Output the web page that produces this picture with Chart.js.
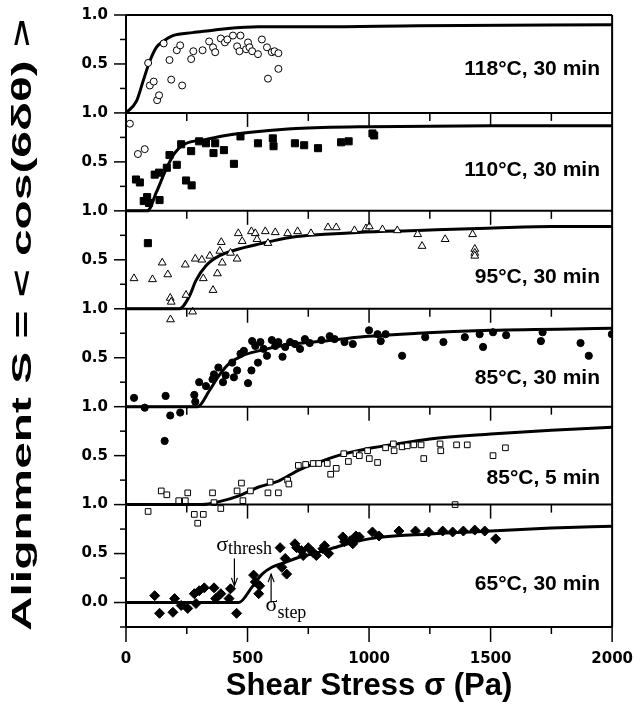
<!DOCTYPE html>
<html>
<head>
<meta charset="utf-8">
<script src="https://cdn.jsdelivr.net/npm/chart.js@4.4.1/dist/chart.umd.min.js"></script>
<style>
  html, body { margin: 0; padding: 0; background: #fff; }
</style>
</head>
<body>
<canvas id="myChart" width="641" height="708"></canvas>
<script>
// panel names, top to bottom
const panelNames = ['118°C, 30 min', '110°C, 30 min', '95°C, 30 min', '85°C, 30 min', '85°C, 5 min', '65°C, 30 min'];
const xTickText = ['0', '500', '1000', '1500', '2000'];
const yTickText = ['0.0', '0.5', '1.0'];
const xTitle = 'Shear Stress σ (Pa)';
const yTitle = 'Alignment S = < cos(6δθ) >';

// 118 C, 30 min (open circles)
const p1X = [16, 49, 77, 91, 98, 114, 128, 136, 155, 179, 186, 209, 223, 231, 268, 277, 315, 342, 358, 367, 390, 407, 417, 440, 457, 467, 471, 494, 502, 508, 519, 543, 559, 580, 584, 600, 611, 627, 627];
const p1Y = [-0.11, -0.42, -0.37, 0.51, 0.28, 0.32, 0.13, 0.18, 0.71, 0.54, 0.34, 0.64, 0.69, 0.28, 0.55, 0.63, 0.64, 0.73, 0.67, 0.62, 0.76, 0.72, 0.75, 0.79, 0.68, 0.63, 0.79, 0.65, 0.72, 0.67, 0.63, 0.60, 0.75, 0.67, 0.35, 0.62, 0.63, 0.61, 0.45];
const c1X = [0, 43, 71, 98, 125, 152, 193, 274, 342, 410, 546, 800, 1200, 2000];
const c1Y = [0, 0.12, 0.33, 0.53, 0.67, 0.73, 0.79, 0.82, 0.84, 0.86, 0.88, 0.88, 0.89, 0.90];

// 110 C, 30 min (filled squares)
const p2X = [41, 57, 73, 87, 90, 95, 118, 136, 138, 168, 179, 209, 227, 247, 268, 270, 301, 329, 360, 367, 403, 444, 471, 543, 604, 607, 695, 733, 790, 885, 916, 1014, 1021];
const p2Y = [0.32, 0.29, 0.10, 0.14, -0.33, 0.08, 0.37, 0.39, 0.11, 0.44, 0.57, 0.47, 0.68, 0.31, 0.61, 0.26, 0.71, 0.69, 0.59, 0.69, 0.62, 0.48, 0.76, 0.69, 0.74, 0.66, 0.69, 0.67, 0.64, 0.70, 0.71, 0.79, 0.77];
const c2X = [0, 88, 125, 166, 200, 240, 329, 410, 546, 700, 1000, 1500, 2000];
const c2Y = [0, 0, 0.19, 0.43, 0.59, 0.68, 0.73, 0.77, 0.81, 0.84, 0.86, 0.87, 0.87];

// 95 C, 30 min (open triangles)
const p3X = [33, 109, 149, 172, 182, 183, 186, 244, 247, 274, 285, 312, 318, 345, 358, 376, 386, 392, 396, 430, 457, 462, 478, 516, 532, 539, 573, 584, 614, 665, 706, 761, 831, 865, 940, 987, 1001, 1055, 1116, 1200, 1218, 1313, 1426, 1435, 1435, 1435];
const p3Y = [0.31, 0.30, 0.47, 0.35, 0.11, -0.11, 0.07, 0.45, 0.14, -0.03, 0.51, 0.50, 0.31, 0.54, 0.19, 0.36, 0.59, 0.68, 0.47, 0.57, 0.51, 0.77, 0.69, 0.79, 0.77, 0.71, 0.79, 0.67, 0.78, 0.77, 0.79, 0.77, 0.83, 0.83, 0.80, 0.82, 0.84, 0.81, 0.80, 0.76, 0.64, 0.71, 0.76, 0.61, 0.57, 0.54];
const c3X = [0, 220, 261, 288, 329, 383, 464, 546, 682, 817, 953, 1200, 1450, 1750, 2000];
const c3Y = [0, 0, 0.13, 0.29, 0.44, 0.54, 0.61, 0.66, 0.73, 0.76, 0.78, 0.80, 0.82, 0.84, 0.84];

// 85 C, 30 min (filled circles)
const p4X = [33, 77, 159, 163, 182, 223, 281, 285, 301, 329, 356, 362, 380, 399, 410, 437, 444, 457, 471, 485, 502, 516, 519, 532, 543, 553, 566, 580, 600, 614, 627, 644, 655, 675, 695, 716, 736, 756, 804, 838, 858, 899, 933, 1000, 1035, 1048, 1068, 1136, 1231, 1306, 1394, 1455, 1469, 1510, 1564, 1707, 1714, 1870, 1904, 1999];
const p4Y = [0.09, -0.01, -0.35, 0.11, -0.09, -0.06, 0.12, 0.05, 0.25, 0.21, 0.28, 0.33, 0.40, 0.25, 0.32, 0.45, 0.30, 0.37, 0.54, 0.57, 0.24, 0.37, 0.67, 0.62, 0.45, 0.66, 0.59, 0.52, 0.68, 0.62, 0.66, 0.51, 0.61, 0.66, 0.64, 0.59, 0.69, 0.65, 0.68, 0.72, 0.69, 0.66, 0.64, 0.78, 0.74, 0.67, 0.74, 0.52, 0.71, 0.66, 0.71, 0.74, 0.61, 0.76, 0.73, 0.67, 0.76, 0.65, 0.52, 0.74];
const c4X = [0, 295, 342, 383, 424, 478, 546, 682, 818, 953, 1200, 1500, 2000];
const c4Y = [0, 0, 0.16, 0.32, 0.44, 0.52, 0.57, 0.64, 0.67, 0.71, 0.75, 0.78, 0.80];

// 85 C, 5 min (open squares)
const p5X = [91, 145, 168, 217, 244, 254, 281, 295, 318, 356, 362, 390, 457, 475, 481, 512, 584, 593, 627, 665, 670, 709, 739, 770, 793, 828, 842, 865, 896, 915, 946, 960, 994, 1001, 1035, 1068, 1100, 1103, 1136, 1157, 1184, 1214, 1225, 1292, 1295, 1354, 1360, 1404, 1510, 1561];
const p5Y = [-0.07, 0.14, 0.10, 0.04, 0.04, 0.12, -0.10, -0.19, -0.10, 0.12, 0.02, -0.04, 0.14, 0.22, 0.04, 0.14, 0.12, 0.23, 0.12, 0.25, 0.21, 0.40, 0.41, 0.42, 0.42, 0.42, 0.31, 0.37, 0.52, 0.44, 0.52, 0.50, 0.55, 0.47, 0.43, 0.58, 0.62, 0.55, 0.59, 0.60, 0.61, 0.61, 0.47, 0.62, 0.55, 0.00, 0.61, 0.61, 0.50, 0.58];
const c5X = [0, 315, 383, 464, 546, 627, 709, 790, 872, 953, 1116, 1250, 1500, 1750, 2000];
const c5Y = [0, 0, 0.03, 0.09, 0.18, 0.24, 0.35, 0.43, 0.50, 0.55, 0.62, 0.67, 0.72, 0.76, 0.79];

// 65 C, 30 min (filled diamonds)
const p6X = [118, 138, 193, 200, 227, 254, 281, 288, 301, 322, 362, 369, 390, 424, 430, 455, 525, 532, 546, 550, 634, 641, 655, 661, 695, 702, 722, 729, 750, 770, 783, 810, 817, 834, 892, 899, 923, 933, 946, 960, 1014, 1041, 1123, 1191, 1245, 1303, 1344, 1388, 1435, 1476, 1521];
const p6Y = [0.07, -0.11, -0.10, 0.04, -0.03, -0.06, 0.09, -0.01, 0.12, 0.15, 0.15, 0.04, 0.09, 0.04, 0.14, -0.11, 0.28, 0.21, 0.09, 0.17, 0.56, 0.36, 0.45, 0.29, 0.60, 0.56, 0.53, 0.48, 0.56, 0.51, 0.48, 0.55, 0.58, 0.50, 0.67, 0.62, 0.63, 0.60, 0.68, 0.67, 0.72, 0.68, 0.73, 0.73, 0.72, 0.73, 0.72, 0.73, 0.74, 0.73, 0.65];
const c6X = [0, 464, 519, 560, 600, 655, 709, 790, 885, 1000, 1250, 1500, 1750, 2000];
const c6Y = [0, 0, 0.16, 0.29, 0.36, 0.41, 0.46, 0.51, 0.58, 0.65, 0.70, 0.73, 0.76, 0.78];

// where the panel names sit (stress, alignment within panel)
const labelX = 1950;
const labelY = [0.45, 0.41, 0.32, 0.29, 0.27, 0.19];

// sigma marks in the bottom panel
const sigmaNotes = [
  { sub: 'thresh', x: 371, y: 0.53, drop: 3, arrowX: 446, from: 0.45, to: 0.17 },
  { sub: 'step', x: 574, y: -0.09, drop: 7, arrowX: 597, from: 0.0, to: 0.29 }
];

const pointSets = [[p1X, p1Y], [p2X, p2Y], [p3X, p3Y], [p4X, p4Y], [p5X, p5Y], [p6X, p6Y]];
const curveSets = [[c1X, c1Y], [c2X, c2Y], [c3X, c3Y], [c4X, c4Y], [c5X, c5Y], [c6X, c6Y]];
const markers = [
  { style: 'circle', r: 3.5, fill: '#fff' },
  { style: 'rect', r: 5, fill: '#000' },
  { style: 'triangle', r: 4.5, fill: '#fff' },
  { style: 'circle', r: 3.6, fill: '#000' },
  { style: 'rect', r: 4, fill: '#fff' },
  { style: 'rectRot', r: 5, fill: '#000' }
];

// each panel is shifted up by whole units so they stack
const offsetOf = i => pointSets.length - 1 - i;

const datasets = [];
pointSets.forEach(([xs, ys], i) => {
  const off = offsetOf(i);
  datasets.push({
    type: 'scatter',
    label: panelNames[i],
    data: xs.map((v, k) => ({ x: v, y: ys[k] + off })),
    pointStyle: markers[i].style,
    pointRadius: markers[i].r,
    pointBackgroundColor: markers[i].fill,
    pointBorderColor: '#000',
    pointBorderWidth: 1
  });
});
curveSets.forEach(([xs, ys], i) => {
  const off = offsetOf(i);
  datasets.push({
    type: 'line',
    label: panelNames[i] + ' fit',
    data: xs.map((v, k) => ({ x: v, y: ys[k] + off })),
    borderColor: '#000',
    borderWidth: 3,
    pointRadius: 0,
    cubicInterpolationMode: 'monotone',
    fill: false
  });
});

function line(ctx, x1, y1, x2, y2) {
  ctx.beginPath();
  ctx.moveTo(x1, y1);
  ctx.lineTo(x2, y2);
  ctx.stroke();
}

function arrow(ctx, x, y1, y2) {
  line(ctx, x, y1, x, y2);
  const dir = y2 > y1 ? -1 : 1;
  ctx.beginPath();
  ctx.moveTo(x - 3, y2 + dir * 8);
  ctx.lineTo(x, y2);
  ctx.lineTo(x + 3, y2 + dir * 8);
  ctx.stroke();
}

const framePlugin = {
  id: 'frame',
  afterDatasetsDraw(chart) {
    const { ctx, chartArea: a, scales: { x, y } } = chart;
    ctx.save();
    ctx.strokeStyle = '#000';
    ctx.fillStyle = '#000';

    // panel boundaries, top and frame
    ctx.lineWidth = 2;
    for (let k = 1; k <= pointSets.length; k++) {
      const py = y.getPixelForValue(k);
      line(ctx, a.left, py, a.right, py);
    }
    line(ctx, a.left, a.top, a.left, a.bottom);
    line(ctx, a.right, a.top, a.right, a.bottom);
    line(ctx, a.left, a.bottom, a.right, a.bottom);

    // stress ticks: bottom axis and along every panel boundary
    ctx.lineWidth = 1.5;
    for (let v = 0; v <= 2000; v += 250) {
      const px = x.getPixelForValue(v);
      const major = v % 500 === 0;
      line(ctx, px, a.bottom, px, a.bottom + (major ? 15 : 7));
      if (v > 0 && v < 2000) {
        for (let k = 1; k < pointSets.length; k++) {
          const py = y.getPixelForValue(k);
          line(ctx, px, py, px, py + (major ? 14 : 8));
        }
      }
    }

    // alignment ticks
    for (let q = -1; q <= pointSets.length * 4; q++) {
      const py = y.getPixelForValue(q / 4);
      const major = q >= 0 && q % 2 === 0;
      line(ctx, a.left - (major ? 12 : 6), py, a.left, py);
    }

    // panel names
    ctx.font = 'bold 21px "Liberation Sans", Arial, sans-serif';
    ctx.textAlign = 'right';
    ctx.textBaseline = 'middle';
    panelNames.forEach((name, i) => {
      ctx.fillText(name, x.getPixelForValue(labelX), y.getPixelForValue(labelY[i] + offsetOf(i)));
    });

    // sigma notes with arrows
    ctx.textAlign = 'left';
    ctx.textBaseline = 'alphabetic';
    ctx.lineWidth = 1.2;
    const bottomOff = offsetOf(pointSets.length - 1);
    sigmaNotes.forEach(n => {
      const px = x.getPixelForValue(n.x);
      const py = y.getPixelForValue(n.y + bottomOff);
      ctx.font = '22px "Liberation Serif", "Times New Roman", serif';
      ctx.fillText('σ', px, py);
      const w = ctx.measureText('σ').width;
      ctx.font = '18px "Liberation Serif", "Times New Roman", serif';
      ctx.fillText(n.sub, px + w, py + n.drop);
      arrow(ctx, x.getPixelForValue(n.arrowX), y.getPixelForValue(n.from + bottomOff), y.getPixelForValue(n.to + bottomOff));
    });

    // y title, stretched along the axis like the original
    ctx.save();
    ctx.translate(24, (a.top + a.bottom) / 2 + 4);
    ctx.rotate(-Math.PI / 2);
    ctx.font = 'bold 27px "Liberation Sans", Arial, sans-serif';
    ctx.textAlign = 'center';
    ctx.textBaseline = 'middle';
    const tw = ctx.measureText(yTitle).width;
    ctx.scale((a.bottom - a.top) / tw, 1);
    ctx.fillText(yTitle, 0, 0);
    ctx.restore();

    ctx.restore();
  }
};

const ctx = document.getElementById('myChart').getContext('2d');
const myChart = new Chart(ctx, {
  type: 'scatter',
  data: { datasets: datasets },
  plugins: [framePlugin],
  options: {
    responsive: false,
    animation: false,
    devicePixelRatio: 1,
    layout: { padding: { left: 0, right: 24, top: 14, bottom: 0 } },
    plugins: {
      legend: { display: false },
      tooltip: { enabled: false }
    },
    scales: {
      x: {
        type: 'linear',
        min: 0,
        max: 2000,
        afterFit: s => { s.height = 81; },
        grid: { display: false, drawTicks: true, tickLength: 15 },
        border: { display: false },
        ticks: {
          stepSize: 250,
          autoSkip: false,
          maxRotation: 0,
          padding: 8,
          color: '#000',
          font: { family: '"DejaVu Sans", sans-serif', size: 15, weight: 'bold' },
          callback: v => (v % 500 === 0 ? xTickText[v / 500] : '')
        },
        title: {
          display: true,
          text: xTitle,
          color: '#000',
          font: { family: '"Liberation Sans", Arial, sans-serif', size: 31, weight: 'bold' },
          padding: { top: 0, bottom: 3 }
        }
      },
      y: {
        type: 'linear',
        min: -0.25,
        max: pointSets.length,
        afterFit: s => { s.width = 126; },
        grid: { display: false, drawTicks: true, tickLength: 12 },
        border: { display: false },
        ticks: {
          stepSize: 0.25,
          autoSkip: false,
          padding: 6,
          color: '#000',
          font: { family: '"DejaVu Sans", sans-serif', size: 15, weight: 'bold' },
          callback: v => {
            const q = Math.round(v * 4);
            if (q < 0 || q % 2) return '';
            if (q === 0) return yTickText[0];
            return q % 4 === 0 ? yTickText[2] : yTickText[1];
          }
        }
      }
    }
  }
});
</script>
</body>
</html>
